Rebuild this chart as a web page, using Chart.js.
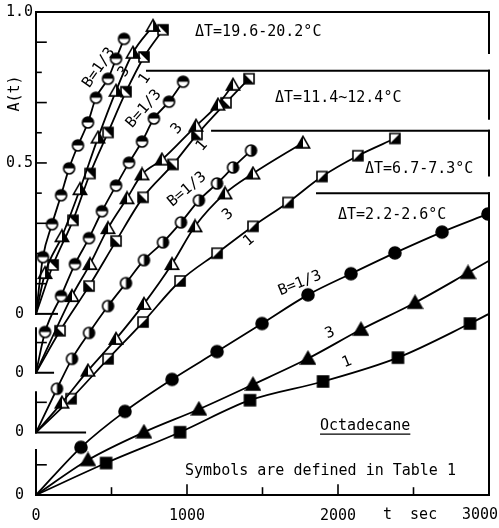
<!DOCTYPE html>
<html><head><meta charset="utf-8">
<script src="https://cdn.jsdelivr.net/npm/chart.js@4.4.0/dist/chart.umd.min.js"></script>
<style>html,body{margin:0;padding:0;background:#fff}</style>
</head><body>
<canvas id="c" width="499" height="528"></canvas>
<script>
// ---------- data (t in s, A(t) relative to each group's own zero) ----------
const groupNames = ['ΔT=19.6-20.2°C', 'ΔT=11.4~12.4°C', 'ΔT=6.7-7.3°C', 'ΔT=2.2-2.6°C'];
const groupOffsets = [0.6, 0.405, 0.207, 0];   // stacked zero of each group
const curveNames = ['B=1/3', '3', '1'];
const xTickValues = [0, 1000, 2000, 3000];
const yTickValues = [0, 0.5, 1.0];

// ΔT = 19.6-20.2 °C
const g1Circles = [[46,0.188],[106,0.297],[166,0.393],[219,0.482],[278,0.558],[344,0.634],[397,0.716],[477,0.779],[530,0.845],[583,0.911]];
const g1Triangles = [[60,0.135],[172,0.257],[291,0.413],[411,0.584],[530,0.739],[642,0.865],[775,0.954]];
const g1Squares = [[113,0.162],[245,0.310],[358,0.465],[477,0.601],[596,0.736],[715,0.851],[841,0.941]];
// ΔT = 11.4-12.4 °C
const g2Circles = [[60,0.135],[166,0.254],[258,0.360],[351,0.446],[437,0.535],[530,0.620],[616,0.696],[702,0.766],[781,0.842],[881,0.898],[974,0.964]];
const g2Triangles = [[238,0.254],[358,0.360],[477,0.479],[603,0.578],[702,0.657],[834,0.706],[1060,0.818],[1205,0.888],[1305,0.954]];
const g2Squares = [[159,0.139],[351,0.287],[530,0.436],[709,0.581],[907,0.690],[1066,0.789],[1258,0.894],[1411,0.974]];
// ΔT = 6.7-7.3 °C
const g3Circles = [[139,0.145],[238,0.244],[351,0.330],[477,0.419],[596,0.495],[715,0.571],[841,0.630],[960,0.696],[1079,0.769],[1199,0.825],[1305,0.878],[1424,0.934]];
const g3Triangles = [[172,0.099],[344,0.205],[530,0.310],[715,0.426],[901,0.558],[1053,0.683],[1252,0.792],[1437,0.858],[1768,0.960]];
const g3Squares = [[232,0.112],[477,0.244],[709,0.366],[954,0.502],[1199,0.594],[1437,0.683],[1669,0.762],[1894,0.848],[2132,0.917],[2377,0.974]];
// ΔT = 2.2-2.6 °C
const g4Circles = [[298,0.158],[589,0.277],[901,0.383],[1199,0.475],[1497,0.568],[1801,0.663],[2086,0.733],[2377,0.802],[2689,0.871],[2993,0.931]];
const g4Triangles = [[344,0.116],[715,0.208],[1079,0.284],[1437,0.366],[1801,0.452],[2152,0.548],[2510,0.637],[2861,0.736]];
const g4Squares = [[464,0.106],[954,0.208],[1417,0.314],[1901,0.376],[2397,0.455],[2874,0.568]];
// where the drawn curves meet the right border (no symbol)
const g4TriangleCurveEnd = [3000, 0.776];
const g4SquareCurveEnd = [3000, 0.600];

// ---------- styling ----------
const FONT = '"DejaVu Sans Mono", "Liberation Mono", monospace';
const FS = 15;

function marker(shape, fill, size) {
  const S = size + 4, c = document.createElement('canvas');
  c.width = S; c.height = S;
  const g = c.getContext('2d'), m = S / 2, r = size / 2;
  const path = () => {
    g.beginPath();
    if (shape === 'circle') g.arc(m, m, r, 0, Math.PI * 2);
    else if (shape === 'rect') g.rect(m - r, m - r, size, size);
    else { g.moveTo(m, m - r * 1.05); g.lineTo(m + r * 1.1, m + r * 0.85); g.lineTo(m - r * 1.1, m + r * 0.85); g.closePath(); }
  };
  path(); g.fillStyle = '#fff'; g.fill();
  g.save(); path(); g.clip(); g.fillStyle = '#000';
  const tri = (a) => { g.beginPath(); g.moveTo(a[0], a[1]); g.lineTo(a[2], a[3]); g.lineTo(a[4], a[5]); g.closePath(); g.fill(); };
  if (fill === 'full') g.fillRect(0, 0, S, S);
  else if (fill === 'top') g.fillRect(0, 0, S, m);
  else if (fill === 'bottom') g.fillRect(0, m, S, S);
  else if (fill === 'left') g.fillRect(0, 0, m, S);
  else if (fill === 'right') g.fillRect(m, 0, S, S);
  else if (fill === 'diagTR') tri([0, 0, S, 0, S, S]);
  else if (fill === 'diagBR') tri([S, 0, S, S, 0, S]);
  else if (fill === 'diagBL') tri([0, 0, S, S, 0, S]);
  g.restore();
  path(); g.lineWidth = 1.6; g.strokeStyle = '#000'; g.stroke();
  return c;
}

const groupMarkers = [
  [marker('circle', 'top', 11), marker('triangle', 'right', 12), marker('rect', 'diagTR', 10)],
  [marker('circle', 'top', 11), marker('triangle', 'left', 12), marker('rect', 'diagBL', 10)],
  [marker('circle', 'right', 11), marker('triangle', 'left', 12), marker('rect', 'diagBR', 10)],
  [marker('circle', 'full', 12), marker('triangle', 'full', 13), marker('rect', 'full', 11)]
];

const seriesList = [
  [0, 0, g1Circles], [0, 1, g1Triangles], [0, 2, g1Squares],
  [1, 0, g2Circles], [1, 1, g2Triangles], [1, 2, g2Squares],
  [2, 0, g3Circles], [2, 1, g3Triangles], [2, 2, g3Squares],
  [3, 0, g4Circles], [3, 1, g4Triangles, g4TriangleCurveEnd], [3, 2, g4Squares, g4SquareCurveEnd]
];

const datasets = seriesList.map(([g, k, pts, end]) => {
  const off = groupOffsets[g];
  const data = [{x: 0, y: off}].concat(pts.map(p => ({x: p[0], y: p[1] + off})));
  if (end) data.push({x: end[0], y: end[1] + off});
  const n = pts.length;
  return {
    label: groupNames[g] + ' ' + curveNames[k],
    data, showLine: true, borderColor: '#000', borderWidth: 1.8,
    cubicInterpolationMode: 'monotone',
    pointStyle: groupMarkers[g][k],
    pointRadius: c => (c.dataIndex === 0 || c.dataIndex > n) ? 0 : 5,
    pointHoverRadius: c => (c.dataIndex === 0 || c.dataIndex > n) ? 0 : 5
  };
});

// y ticks: zero of every group, plus 0.5 and 1.0 of the top group
const yTicks = [];
const yLabels = [];
groupOffsets.slice().sort((a, b) => a - b).forEach(o => { yTicks.push(o); yLabels.push('0'); });
yTickValues.slice(1).forEach(v => { yTicks.push(groupOffsets[0] + v); yLabels.push(v.toFixed(1)); });

// frame pieces of each stacked panel (in A units of that panel / t in s)
const frames = [
  {leftFrom: 1.0, footTo: 139, topFrom: 0, rightTo: 0.864},
  {leftFrom: 0.147, footTo: 113, topFrom: 735, rightTo: 0.841},
  {leftFrom: 0.133, footTo: 325, topFrom: 1166, rightTo: 0.851},
  {leftFrom: 0.149, footTo: 3000, topFrom: 1861, rightTo: 0}
];

const curveLabels = [
  [0, 0, 417, 0.815, -55], [0, 1, 583, 0.802, -55], [0, 2, 722, 0.779, -55],
  [1, 0, 715, 0.874, -49], [1, 1, 934, 0.808, -49], [1, 2, 1099, 0.752, -49],
  [2, 0, 1000, 0.805, -40], [2, 1, 1272, 0.722, -40], [2, 2, 1411, 0.636, -40],
  [3, 0, 1748, 0.701, -22], [3, 1, 1947, 0.536, -22], [3, 2, 2060, 0.440, -22]
];
const groupLabelPos = [[1053, 0.934], [1583, 0.911], [2179, 0.874], [2000, 0.926]];

const framePlugin = {
  id: 'frame',
  beforeDatasetsDraw(chart) {
    const {ctx, scales: {x, y}} = chart;
    const X = v => x.getPixelForValue(v), Y = v => y.getPixelForValue(v);
    ctx.save();
    ctx.strokeStyle = '#000'; ctx.lineWidth = 2; ctx.lineCap = 'square';
    const line = (x1, y1, x2, y2) => { ctx.beginPath(); ctx.moveTo(x1, y1); ctx.lineTo(x2, y2); ctx.stroke(); };
    frames.forEach((f, i) => {
      const o = groupOffsets[i];
      line(X(0), Y(o + f.leftFrom), X(0), Y(o));          // left axis piece
      line(X(0), Y(o), X(f.footTo), Y(o));                // foot
      line(X(f.topFrom), Y(o + 1), X(3000), Y(o + 1));    // top edge
      line(X(3000), Y(o + 1), X(3000), Y(o + f.rightTo)); // right edge
      ctx.lineWidth = 1.6;
      for (let k = 1; k <= 9; k++) {
        const a = k / 10;
        if (a > f.leftFrom + 1e-9) continue;
        const len = (k % 2) ? 10 : 5;
        line(X(0), Y(o + a), X(0) + len, Y(o + a));
      }
      ctx.lineWidth = 2;
    });
    ctx.lineWidth = 1.6;
    for (let t = 500; t < 3000; t += 500) {
      line(X(t), Y(0), X(t), Y(0) - (t % 1000 === 0 ? 10 : 7));
    }
    ctx.restore();
  },
  afterDraw(chart) {
    const {ctx, scales: {x, y}} = chart;
    const X = v => x.getPixelForValue(v), Y = v => y.getPixelForValue(v);
    ctx.save();
    ctx.fillStyle = '#000'; ctx.strokeStyle = '#000';
    ctx.font = FS + 'px ' + FONT;
    ctx.textBaseline = 'middle';
    ctx.textAlign = 'left';
    groupLabelPos.forEach((p, i) => ctx.fillText(groupNames[i], X(p[0]), Y(p[1] + groupOffsets[i])));
    // Octadecane
    const ox = X(1881), oy = Y(0.228);
    ctx.fillText('Octadecane', ox, oy);
    const w = ctx.measureText('Octadecane').width;
    ctx.lineWidth = 1.4;
    ctx.beginPath(); ctx.moveTo(ox, oy + 8); ctx.lineTo(ox + w, oy + 8); ctx.stroke();
    ctx.fillText('Symbols are defined in Table 1', X(987), Y(0.079));
    // curve labels
    ctx.textAlign = 'center';
    curveLabels.forEach(([g, k, t, a, ang]) => {
      ctx.save();
      ctx.translate(X(t), Y(a + groupOffsets[g]));
      ctx.rotate(ang * Math.PI / 180);
      ctx.fillText(curveNames[k], 0, 0);
      ctx.restore();
    });
    // axis titles
    ctx.save();
    ctx.translate(x.left - 21, Y(groupOffsets[0] + 0.73));
    ctx.rotate(-Math.PI / 2);
    ctx.fillText('A(t)', 0, 0);
    ctx.restore();
    const ly = y.bottom + 20;
    ctx.fillText('3000', X(3000) - 9, ly);
    ctx.textAlign = 'left';
    ctx.fillText('t  sec', X(2298), ly);
    ctx.restore();
  }
};

new Chart(document.getElementById('c'), {
  type: 'scatter',
  data: {datasets},
  options: {
    responsive: false, devicePixelRatio: 1, animation: false,
    layout: {padding: {left: 0, right: 10, top: 11, bottom: 0}},
    plugins: {legend: {display: false}, tooltip: {enabled: false}},
    scales: {
      x: {
        type: 'linear', min: 0, max: 3000,
        afterBuildTicks: s => { s.ticks = xTickValues.slice(0, 3).map(v => ({value: v})); },
        ticks: {font: {family: FONT, size: FS}, color: '#000', padding: 12, maxRotation: 0, autoSkip: false,
                callback: v => String(v)},
        grid: {display: false, drawTicks: false}, border: {display: false},
        afterFit: s => { s.height = 33; }
      },
      y: {
        type: 'linear', min: 0, max: 1.6,
        afterBuildTicks: s => { s.ticks = yTicks.map(v => ({value: v})); },
        ticks: {font: {family: FONT, size: FS}, color: '#000', padding: 3, crossAlign: 'center', autoSkip: false,
                callback: (v, i) => yLabels[i]},
        grid: {display: false, drawTicks: false}, border: {display: false},
        afterFit: s => { s.width = 36; }
      }
    }
  },
  plugins: [framePlugin]
});
</script>
</body></html>
